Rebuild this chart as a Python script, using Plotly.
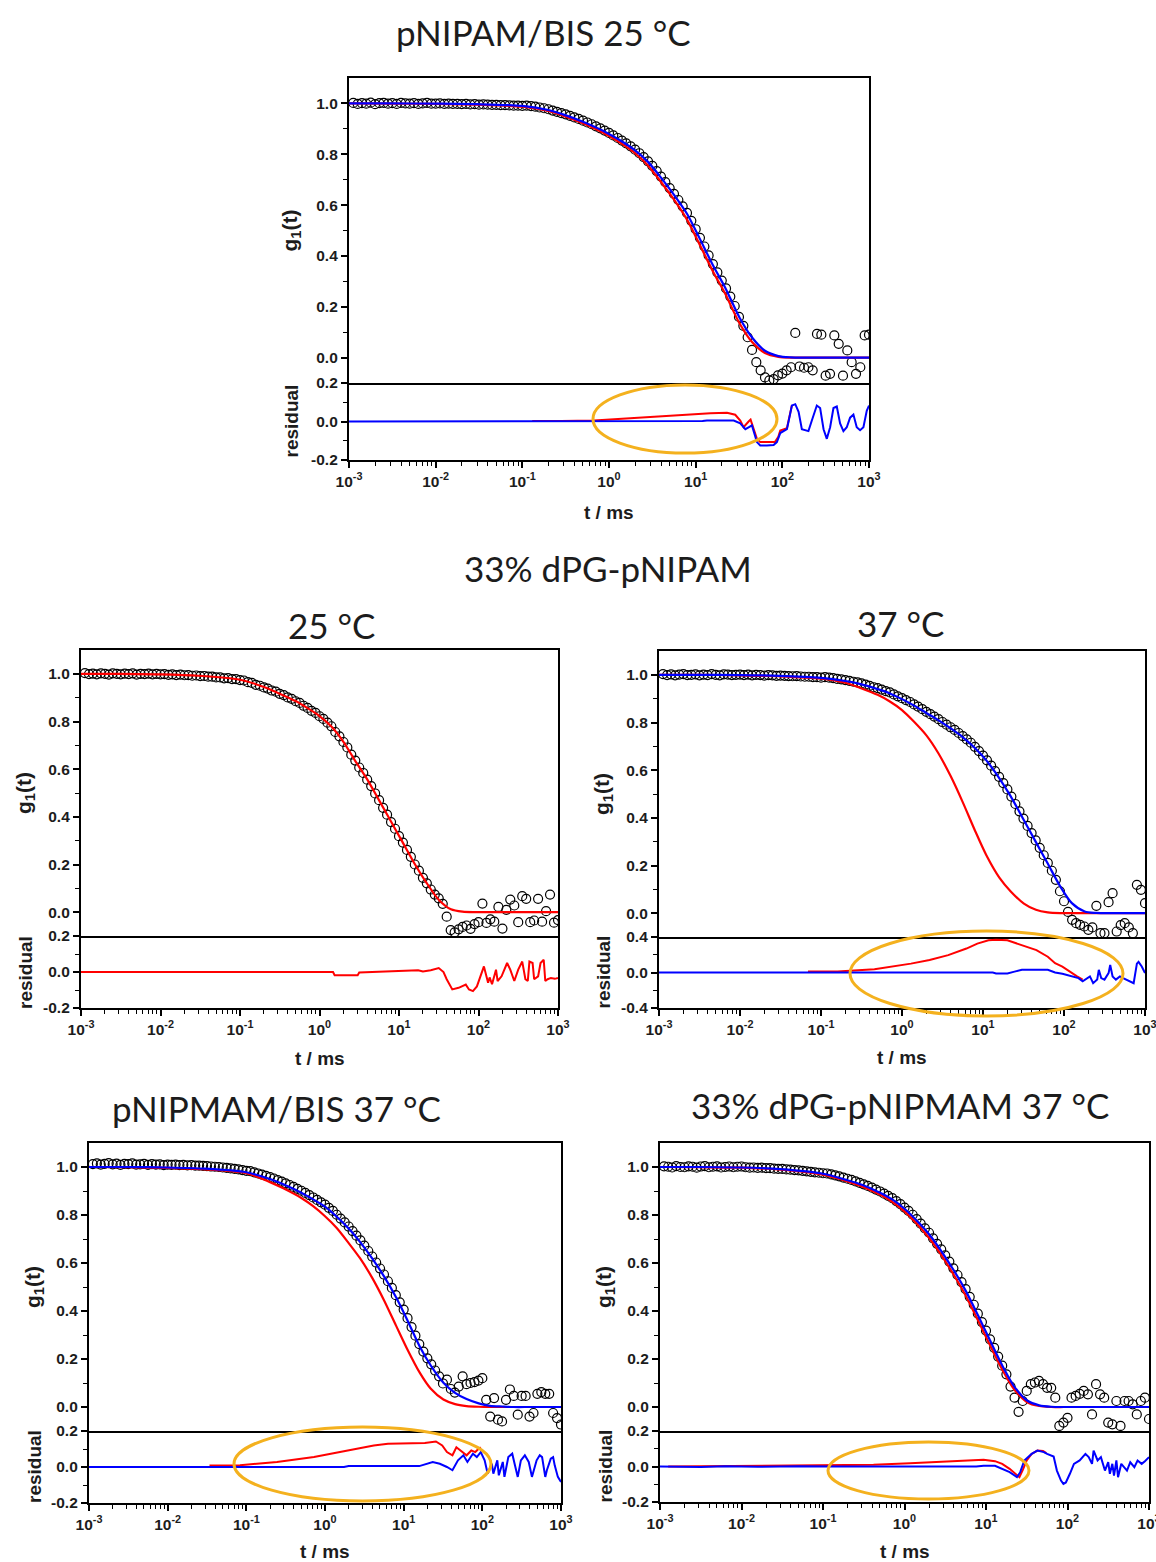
import plotly.graph_objects as go

# ---------------------------------------------------------------- canvas
W, H = 1156, 1562


def fx(px):
    return min(1.0, max(0.0, px / W))


def fy(py):
    return min(1.0, max(0.0, 1 - py / H))


# ---------------------------------------------------------------- data
# correlator lag times (ms) of the measured points
LAG_MS = [
    0.00112, 0.00126, 0.00141, 0.00158, 0.00178, 0.00200, 0.00224, 0.00251, 0.00282, 0.00316,
    0.00355, 0.00398, 0.00447, 0.00501, 0.00562, 0.00631, 0.00708, 0.00794, 0.00891, 0.0100,
    0.0112, 0.0126, 0.0141, 0.0158, 0.0178, 0.0200, 0.0224, 0.0251, 0.0282, 0.0316,
    0.0355, 0.0398, 0.0447, 0.0501, 0.0562, 0.0631, 0.0708, 0.0794, 0.0891, 0.100,
    0.112, 0.126, 0.141, 0.158, 0.178, 0.200, 0.224, 0.251, 0.282, 0.316,
    0.355, 0.398, 0.447, 0.501, 0.562, 0.631, 0.708, 0.794, 0.891, 1.00,
    1.12, 1.26, 1.41, 1.58, 1.78, 2.00, 2.24, 2.51, 2.82, 3.16,
    3.55, 3.98, 4.47, 5.01, 5.62, 6.31, 7.08, 7.94, 8.91, 10.0,
    11.2, 12.6, 14.1, 15.8, 17.8, 20.0, 22.4, 25.1, 28.2, 31.6,
    35.5, 39.8, 44.7, 50.1, 56.2, 63.1, 70.8, 79.4, 89.1, 100,
    112, 126, 141, 158, 178, 200, 224, 251, 282, 316,
    355, 398, 447, 501, 562, 631, 708, 794, 891, 1000,
]

# lag times (ms) at which the fitted curves are tabulated
FIT_MS = [0.001, 0.003, 0.01, 0.03, 0.1, 0.2, 0.3, 0.5, 0.7, 1.0, 1.4, 2.0, 2.8, 4.0,
          5.6, 8.0, 11, 16, 22, 32, 45, 63, 90, 125, 180, 250, 400, 1000]

# --- pNIPAM/BIS 25 °C
A_OBS = [
    1.002, 0.998, 1.001, 0.999, 1.003, 0.997, 1.001, 1.002, 0.999, 1.001,
    0.998, 1.002, 1.000, 0.999, 1.001, 0.998, 1.000, 1.002, 0.999, 0.999,
    1.000, 0.998, 0.999, 0.998, 0.998, 0.997, 0.998, 0.996, 0.997, 0.995,
    0.996, 0.995, 0.994, 0.994, 0.993, 0.993, 0.992, 0.991, 0.991, 0.990,
    0.991, 0.989, 0.987, 0.984, 0.981, 0.977, 0.972, 0.967, 0.962, 0.957,
    0.951, 0.945, 0.939, 0.932, 0.925, 0.918, 0.910, 0.902, 0.893, 0.884,
    0.874, 0.864, 0.854, 0.843, 0.831, 0.818, 0.804, 0.789, 0.772, 0.754,
    0.734, 0.712, 0.690, 0.667, 0.644, 0.620, 0.595, 0.569, 0.538, 0.505,
    0.471, 0.437, 0.402, 0.368, 0.335, 0.303, 0.272, 0.240, 0.203, 0.160,
    0.125, 0.080, 0.030, -0.018, -0.050, -0.078, -0.090, -0.085, -0.070, -0.063,
    -0.050, -0.038, 0.097, -0.035, -0.040, -0.038, -0.050, 0.093, 0.090, -0.071,
    -0.064, 0.087, 0.054, -0.071, 0.028, -0.018, -0.064, -0.038, 0.087, 0.090,
]
A_FIT_RED = [1.000, 0.999, 0.998, 0.995, 0.987, 0.970, 0.951, 0.922, 0.899, 0.872, 0.842, 0.804,
             0.757, 0.690, 0.622, 0.541, 0.448, 0.336, 0.250, 0.135, 0.060, 0.018, 0.003, 0.000,
             0.000, 0.000, 0.000, 0.000]
A_FIT_BLUE = [1.000, 1.000, 0.999, 0.997, 0.990, 0.974, 0.956, 0.928, 0.906, 0.880, 0.851, 0.815,
              0.771, 0.707, 0.641, 0.564, 0.472, 0.360, 0.274, 0.158, 0.078, 0.027, 0.006, 0.001,
              0.000, 0.000, 0.000, 0.000]
A_RES_RED_T = [0.13, 0.28, 0.67, 1.36, 3.9, 7.3, 14.8, 23.0, 28.6, 32.7, 35.7, 40.8, 43.0, 50.9,
               55.6, 70.0, 82.0, 89.9, 94.6, 113, 129]
A_RES_RED = [0.003, 0.002, 0.005, 0.014, 0.026, 0.035, 0.043, 0.045, 0.035, 0.005, -0.030, 0.000,
             0.010, -0.090, -0.107, -0.107, -0.107, -0.080, -0.047, -0.035, 0.085]
A_RES_BLUE_T = [0.001, 10.0, 12.0, 13.5, 27.5, 32.7, 37.4, 40.8, 44.6, 50.9, 55.6, 66.4, 79.3,
                86.5, 94.6, 113, 129, 141, 154, 168, 200, 219, 250, 273, 299, 326, 356, 389, 425,
                464, 507, 554, 605, 661, 722, 789, 862, 942, 1000]
A_RES_BLUE = [0.0, 0.0, 0.003, 0.005, 0.005, -0.010, -0.040, -0.030, -0.020, -0.107, -0.125,
              -0.125, -0.122, -0.107, -0.060, -0.040, 0.083, 0.090, 0.050, -0.040, -0.050, 0.005,
              0.083, 0.070, -0.040, -0.090, -0.030, 0.070, 0.078, -0.010, -0.050, -0.030, 0.020,
              0.036, -0.030, -0.045, -0.030, 0.055, 0.083]

# --- 33% dPG-pNIPAM 25 °C
B_OBS = [
    1.003, 0.999, 1.001, 0.998, 1.002, 1.000, 0.997, 1.002, 1.000, 0.998,
    1.001, 0.999, 1.002, 0.997, 1.000, 0.999, 1.001, 0.998, 1.000, 0.998,
    0.999, 0.996, 0.998, 0.995, 0.997, 0.994, 0.995, 0.992, 0.993, 0.990,
    0.991, 0.988, 0.988, 0.985, 0.985, 0.981, 0.982, 0.978, 0.978, 0.974,
    0.972, 0.965, 0.962, 0.954, 0.950, 0.943, 0.938, 0.930, 0.925, 0.916,
    0.911, 0.901, 0.895, 0.885, 0.878, 0.866, 0.857, 0.845, 0.836, 0.822,
    0.811, 0.795, 0.780, 0.756, 0.738, 0.714, 0.691, 0.661, 0.636, 0.607,
    0.584, 0.556, 0.529, 0.498, 0.470, 0.438, 0.409, 0.378, 0.350, 0.319,
    0.292, 0.261, 0.232, 0.200, 0.174, 0.144, 0.121, 0.095, 0.074, 0.058,
    0.035, -0.019, -0.075, -0.085, -0.072, -0.062, -0.056, -0.070, -0.050, -0.042,
    0.036, -0.045, -0.030, -0.040, 0.022, -0.069, 0.010, 0.053, 0.028, -0.042,
    0.067, 0.056, -0.042, -0.035, 0.056, -0.040, 0.004, 0.074, -0.044, -0.033,
]
B_FIT_RED = [1.000, 1.000, 0.998, 0.992, 0.975, 0.945, 0.920, 0.886, 0.857, 0.823, 0.780, 0.715,
             0.636, 0.556, 0.470, 0.378, 0.296, 0.199, 0.125, 0.050, 0.012, 0.002, 0.000, 0.000,
             0.000, 0.000, 0.000, 0.000]
B_RES_RED_T = [0.001, 1.48, 1.55, 3.02, 3.16, 9.12, 10.0, 17.4, 20.0, 25.1, 31.6, 36.3, 39.8, 46.8,
               56.2, 69.2, 75.9, 85.1, 95.5, 105, 117, 132, 138, 148, 166, 174, 195, 229, 251, 282,
               316, 355, 389, 417, 437, 479, 501, 562, 603, 661, 692, 741, 813, 912, 1000]
B_RES_RED = [0.0, 0.0, -0.018, -0.018, -0.003, 0.003, 0.005, 0.010, 0.003, 0.010, 0.022, 0.000,
             -0.040, -0.097, -0.088, -0.070, -0.097, -0.106, -0.080, -0.024, 0.031, -0.060, -0.030,
             -0.068, 0.013, -0.050, -0.024, 0.050, 0.013, -0.050, 0.013, 0.058, -0.040, -0.050,
             0.058, 0.050, -0.040, -0.024, 0.050, 0.068, -0.050, -0.040, -0.033, -0.038, -0.033]

# --- 33% dPG-pNIPAM 37 °C
C_OBS = [
    1.003, 0.999, 1.002, 0.998, 1.001, 1.003, 0.999, 1.000, 1.002, 0.998,
    1.001, 0.999, 1.003, 1.000, 0.998, 1.002, 1.001, 0.999, 1.000, 1.001,
    0.999, 1.001, 0.998, 1.000, 0.999, 0.997, 0.999, 0.998, 0.996, 0.997,
    0.996, 0.995, 0.994, 0.995, 0.993, 0.992, 0.992, 0.990, 0.990, 0.988,
    0.990, 0.988, 0.986, 0.983, 0.981, 0.978, 0.975, 0.971, 0.968, 0.964,
    0.959, 0.954, 0.948, 0.944, 0.938, 0.932, 0.926, 0.918, 0.910, 0.902,
    0.894, 0.886, 0.876, 0.867, 0.856, 0.845, 0.835, 0.825, 0.814, 0.802,
    0.791, 0.780, 0.769, 0.756, 0.743, 0.729, 0.715, 0.698, 0.680, 0.661,
    0.641, 0.619, 0.596, 0.572, 0.546, 0.519, 0.489, 0.458, 0.427, 0.397,
    0.366, 0.336, 0.305, 0.274, 0.243, 0.211, 0.178, 0.140, 0.092, 0.050,
    0.005, -0.028, -0.042, -0.049, -0.056, -0.070, -0.060, 0.031, -0.084, -0.084,
    0.046, 0.084, -0.077, -0.050, -0.042, -0.060, -0.084, 0.119, 0.098, 0.042,
]
C_FIT_RED = [1.000, 1.000, 0.998, 0.994, 0.984, 0.967, 0.946, 0.916, 0.889, 0.852, 0.804, 0.746,
             0.672, 0.574, 0.467, 0.345, 0.243, 0.148, 0.091, 0.040, 0.014, 0.003, 0.000, 0.000,
             0.000, 0.000, 0.000, 0.000]
C_FIT_BLUE = [1.000, 1.000, 0.999, 0.996, 0.987, 0.974, 0.962, 0.940, 0.923, 0.898, 0.872, 0.840,
              0.810, 0.775, 0.739, 0.692, 0.641, 0.565, 0.490, 0.390, 0.298, 0.208, 0.112, 0.042,
              0.007, 0.001, 0.000, 0.000]
C_RES_RED_T = [0.069, 0.16, 0.457, 0.776, 1.29, 2.19, 3.72, 6.24, 8.51, 11.7, 14.5, 20.0, 30.2,
               45.7, 63.1, 77.6, 95.5, 117, 145, 170]
C_RES_RED = [0.010, 0.011, 0.037, 0.067, 0.100, 0.140, 0.196, 0.270, 0.326, 0.363, 0.370, 0.363,
             0.307, 0.252, 0.178, 0.104, 0.067, 0.011, -0.044, -0.080]
C_RES_BLUE_T = [0.001, 13.2, 14.5, 20.0, 24.5, 30.2, 63.1, 77.6, 95.5, 129, 151, 170, 186, 209,
                229, 257, 269, 288, 316, 355, 372, 398, 437, 490, 537, 661, 724, 794, 832, 912,
                1000]
C_RES_BLUE = [0.0, 0.0, -0.010, -0.010, 0.010, 0.030, 0.030, 0.000, -0.015, -0.044, -0.063,
              -0.100, -0.074, -0.044, -0.120, -0.080, 0.030, -0.063, -0.080, -0.007, 0.085,
              -0.044, -0.080, -0.044, -0.063, -0.100, -0.120, 0.100, 0.120, 0.067, -0.007]

# --- pNIPMAM/BIS 37 °C
D_OBS = [
    1.012, 1.015, 1.010, 1.013, 1.016, 1.011, 1.014, 1.009, 1.013, 1.012,
    1.015, 1.010, 1.011, 1.013, 1.009, 1.012, 1.010, 1.011, 1.008, 1.010,
    1.009, 1.010, 1.008, 1.009, 1.007, 1.008, 1.006, 1.006, 1.005, 1.004,
    1.002, 1.001, 1.000, 0.998, 0.996, 0.994, 0.992, 0.990, 0.987, 0.984,
    0.983, 0.978, 0.973, 0.968, 0.963, 0.958, 0.952, 0.945, 0.939, 0.932,
    0.925, 0.917, 0.909, 0.901, 0.892, 0.883, 0.873, 0.863, 0.853, 0.843,
    0.830, 0.817, 0.801, 0.785, 0.769, 0.752, 0.733, 0.714, 0.694, 0.672,
    0.650, 0.627, 0.602, 0.577, 0.552, 0.524, 0.496, 0.466, 0.436, 0.406,
    0.370, 0.333, 0.297, 0.262, 0.231, 0.203, 0.178, 0.152, 0.128, 0.098,
    0.114, 0.075, 0.060, 0.085, 0.128, 0.095, 0.100, 0.104, 0.110, 0.120,
    0.030, -0.040, 0.037, -0.053, -0.060, 0.030, 0.073, 0.046, -0.032, 0.046,
    0.046, -0.040, -0.025, 0.055, 0.062, 0.055, 0.055, -0.025, -0.046, -0.073,
]
D_FIT_RED = [1.000, 0.999, 0.996, 0.990, 0.974, 0.937, 0.910, 0.871, 0.838, 0.795, 0.747, 0.683,
             0.619, 0.537, 0.446, 0.339, 0.244, 0.143, 0.077, 0.031, 0.012, 0.004, 0.001, 0.000,
             0.000, 0.000, 0.000, 0.000]
D_FIT_BLUE = [1.000, 1.000, 0.998, 0.993, 0.978, 0.950, 0.927, 0.893, 0.866, 0.835, 0.794, 0.744,
              0.687, 0.618, 0.545, 0.457, 0.366, 0.252, 0.174, 0.101, 0.059, 0.033, 0.015, 0.005,
              0.002, 0.000, 0.000, 0.000]
D_RES_RED_T = [0.034, 0.0832, 0.245, 0.724, 1.55, 2.95, 4.17, 6.31, 11.0, 18.6, 25.7, 30.9, 35.5,
               41.7, 46.8, 55.0, 63.1, 72.4, 81.3, 89.1, 95.5]
D_RES_RED = [0.009, 0.010, 0.028, 0.055, 0.083, 0.107, 0.120, 0.129, 0.133, 0.133, 0.142, 0.120,
             0.083, 0.065, 0.110, 0.083, 0.065, 0.092, 0.083, 0.100, 0.110]
D_RES_BLUE_T = [0.001, 1.74, 2.0, 15.8, 23.4, 28.8, 35.5, 41.7, 49.0, 57.5, 64.6, 75.9, 85.1,
                95.5, 107, 117, 132, 138, 155, 162, 182, 191, 214, 240, 263, 282, 309, 347, 389,
                427, 490, 537, 575, 631, 661, 741, 794, 832, 912, 1000]
D_RES_BLUE = [0.0, 0.0, 0.005, 0.005, 0.028, 0.018, 0.000, -0.018, 0.037, 0.065, 0.028, 0.074,
              0.055, 0.083, 0.037, -0.037, 0.018, -0.037, 0.037, -0.046, 0.028, -0.055, 0.055,
              0.074, 0.000, -0.055, 0.037, 0.065, 0.028, -0.055, 0.037, 0.065, 0.055, -0.055,
              -0.018, 0.046, 0.055, 0.009, -0.055, -0.083]

# --- 33% dPG-pNIPMAM 37 °C
E_OBS = [
    1.003, 1.001, 0.998, 1.004, 1.000, 0.999, 1.003, 1.001, 0.997, 1.002,
    1.004, 0.999, 1.001, 1.003, 0.998, 1.000, 1.002, 0.999, 1.001, 1.002,
    0.999, 0.997, 0.998, 0.996, 0.997, 0.995, 0.995, 0.993, 0.992, 0.992,
    0.990, 0.989, 0.987, 0.986, 0.984, 0.982, 0.980, 0.978, 0.976, 0.974,
    0.973, 0.969, 0.965, 0.961, 0.956, 0.951, 0.946, 0.940, 0.934, 0.928,
    0.921, 0.914, 0.906, 0.898, 0.889, 0.880, 0.870, 0.858, 0.845, 0.831,
    0.817, 0.801, 0.783, 0.764, 0.744, 0.726, 0.703, 0.680, 0.657, 0.632,
    0.606, 0.578, 0.550, 0.520, 0.491, 0.459, 0.426, 0.389, 0.354, 0.318,
    0.282, 0.246, 0.210, 0.172, 0.136, 0.085, 0.039, -0.020, 0.025, 0.067,
    0.095, 0.102, 0.109, 0.095, 0.080, 0.080, 0.039, -0.079, -0.065, -0.045,
    0.039, 0.046, 0.055, 0.067, 0.053, -0.031, 0.095, 0.053, 0.039, -0.065,
    -0.072, 0.025, -0.079, 0.025, 0.025, 0.011, -0.031, 0.025, 0.039, -0.050,
]
E_FIT_RED = [1.000, 0.999, 0.997, 0.989, 0.968, 0.940, 0.919, 0.885, 0.856, 0.815, 0.766, 0.705,
             0.636, 0.552, 0.466, 0.360, 0.263, 0.153, 0.075, 0.020, 0.004, 0.000, 0.000, 0.000,
             0.000, 0.000, 0.000, 0.000]
E_FIT_BLUE = [1.000, 1.000, 0.998, 0.991, 0.972, 0.945, 0.926, 0.893, 0.866, 0.826, 0.778, 0.720,
              0.652, 0.571, 0.486, 0.381, 0.283, 0.170, 0.087, 0.027, 0.007, 0.001, 0.000, 0.000,
              0.000, 0.000, 0.000, 0.000]
E_RES_RED_T = [0.00126, 0.12, 0.417, 1.17, 3.31, 5.62, 9.33, 12.9, 15.8, 19.5, 22.9, 25.7, 28.2,
               31.6, 36.3, 42.7, 50.1, 55.0]
E_RES_RED = [0.0, 0.005, 0.010, 0.019, 0.030, 0.034, 0.038, 0.030, 0.015, -0.013, -0.041, -0.060,
             -0.020, 0.034, 0.071, 0.090, 0.087, 0.075]
E_RES_BLUE_T = [0.001, 0.00316, 0.00631, 0.0158, 0.0501, 0.158, 7.59, 9.33, 12.9, 15.8, 19.5,
                24.0, 26.3, 29.5, 36.3, 42.7, 51.3, 56.2, 61.7, 67.6, 74.1, 83.2, 89.1, 95.5,
                107, 120, 141, 166, 182, 200, 209, 234, 257, 288, 316, 331, 355, 372, 398, 417,
                457, 537, 589, 661, 724, 813, 891, 1000]
E_RES_BLUE = [0.0, -0.003, 0.002, -0.002, 0.002, 0.0, 0.0, 0.004, 0.004, -0.013, -0.032, -0.060,
              -0.032, 0.034, 0.071, 0.090, 0.081, 0.071, 0.062, 0.056, -0.023, -0.079, -0.098,
              -0.090, -0.041, 0.015, 0.034, 0.071, 0.053, 0.015, 0.090, 0.034, 0.053, -0.023,
              0.024, -0.041, 0.015, -0.051, 0.034, -0.060, 0.015, -0.023, 0.024, -0.004, 0.034,
              0.015, 0.030, 0.053]

# axis tick labels
DECADES = [0.001, 0.01, 0.1, 1, 10, 100, 1000]
DECADE_LABELS = ["10<sup>-3</sup>", "10<sup>-2</sup>", "10<sup>-1</sup>", "10<sup>0</sup>",
                 "10<sup>1</sup>", "10<sup>2</sup>", "10<sup>3</sup>"]
G1_TICKS = [0.0, 0.2, 0.4, 0.6, 0.8, 1.0]
G1_LABELS = ["0.0", "0.2", "0.4", "0.6", "0.8", "1.0"]

# ---------------------------------------------------------------- style
RED, BLUE, ORANGE = "#ff0000", "#0000ff", "#f4b11e"
INK = "#1c1c1c"
SANS = "Liberation Sans, Arial, sans-serif"
TICK_FONT = dict(family=SANS, size=15.5, color=INK, weight="bold")
LABEL_FONT = dict(family=SANS, size=19, color=INK, weight="bold")
TITLE_FONT = dict(family="Lato, Open Sans, sans-serif", size=35, color=INK)

MINOR_X = [m * d for d in DECADES[:-1] for m in range(2, 10)]

# panel boxes in pixels: left, right, top, split (main/residual), bottom
PANELS = [
    dict(box=(349, 869, 78, 383, 460), obs=A_OBS,
         fits=[(A_FIT_RED, RED), (A_FIT_BLUE, BLUE)],
         res=[(A_RES_RED_T, A_RES_RED, RED), (A_RES_BLUE_T, A_RES_BLUE, BLUE)],
         lim=0.2, ylab_x=291, xlab_y=512,
         ellipse=(593, 777, 385, 453)),
    dict(box=(81, 558, 650, 936, 1008), obs=B_OBS,
         fits=[(B_FIT_RED, RED)],
         res=[(B_RES_RED_T, B_RES_RED, RED)],
         lim=0.2, ylab_x=25, xlab_y=1058, ellipse=None),
    dict(box=(659, 1145, 651, 937, 1008), obs=C_OBS,
         fits=[(C_FIT_RED, RED), (C_FIT_BLUE, BLUE)],
         res=[(C_RES_RED_T, C_RES_RED, RED), (C_RES_BLUE_T, C_RES_BLUE, BLUE)],
         lim=0.4, ylab_x=603, xlab_y=1057,
         ellipse=(850, 1123, 931, 1016)),
    dict(box=(89, 561, 1143, 1431, 1503), obs=D_OBS,
         fits=[(D_FIT_RED, RED), (D_FIT_BLUE, BLUE)],
         res=[(D_RES_RED_T, D_RES_RED, RED), (D_RES_BLUE_T, D_RES_BLUE, BLUE)],
         lim=0.2, ylab_x=34, xlab_y=1551,
         ellipse=(234, 491, 1427, 1501)),
    dict(box=(660, 1149, 1143, 1431, 1502), obs=E_OBS,
         fits=[(E_FIT_RED, RED), (E_FIT_BLUE, BLUE)],
         res=[(E_RES_RED_T, E_RES_RED, RED), (E_RES_BLUE_T, E_RES_BLUE, BLUE)],
         lim=0.2, ylab_x=605, xlab_y=1551,
         ellipse=(828, 1029, 1442, 1499)),
]

TITLES = [
    ("pNIPAM/BIS 25 °C", 543, 32),
    ("33% dPG-pNIPAM", 608, 568),
    ("25 °C", 331, 625),
    ("37 °C", 900, 623),
    ("pNIPMAM/BIS 37 °C", 276, 1108),
    ("33% dPG-pNIPMAM 37 °C", 900, 1105),
]

fig = go.Figure()
layout = {}
annotations = []
shapes = []

LINE = dict(showline=True, linecolor="black", linewidth=2.2, showgrid=False, zeroline=False,
            automargin=False)
TICK = dict(ticks="outside", ticklen=6, tickwidth=1.6, tickcolor="black", tickfont=TICK_FONT,
            ticklabeloverflow="allow")
MINOR_STYLE = dict(ticks="outside", ticklen=3.5, tickwidth=1.4, tickcolor="black")

for k, p in enumerate(PANELS):
    nm, nr = 2 * k + 1, 2 * k + 2
    xm = "x" if nm == 1 else f"x{nm}"
    ym = "y" if nm == 1 else f"y{nm}"
    xr, yr = f"x{nr}", f"y{nr}"
    l, r, t, s, b = p["box"]

    # measured correlation function
    fig.add_trace(go.Scatter(
        x=LAG_MS, y=p["obs"], mode="markers", xaxis=xm, yaxis=ym,
        marker=dict(symbol="circle-open", size=9, color="black", line=dict(width=1.2)),
        showlegend=False, hoverinfo="skip"))
    # fitted curves
    for vals, col in p["fits"]:
        fig.add_trace(go.Scatter(
            x=FIT_MS, y=vals, mode="lines", xaxis=xm, yaxis=ym,
            line=dict(color=col, width=2.2, shape="spline", smoothing=0.8),
            showlegend=False, hoverinfo="skip"))
    # residuals
    for tt, rr, col in p["res"]:
        fig.add_trace(go.Scatter(
            x=tt, y=rr, mode="lines", xaxis=xr, yaxis=yr,
            line=dict(color=col, width=2),
            showlegend=False, hoverinfo="skip"))

    dom_x = [fx(l), fx(r)]
    lim = p["lim"]

    # main panel: frame on all four sides, no x labels
    layout["xaxis" if nm == 1 else f"xaxis{nm}"] = dict(
        domain=dom_x, anchor=ym, type="log", range=[-3, 3],
        showticklabels=False, ticks="", mirror=True, **LINE)
    layout["yaxis" if nm == 1 else f"yaxis{nm}"] = dict(
        domain=[fy(s), fy(t)], anchor=xm, range=[-0.1, 1.1],
        tickmode="array", tickvals=G1_TICKS, ticktext=G1_LABELS,
        minor=dict(tickmode="array", tickvals=[0.1, 0.3, 0.5, 0.7, 0.9], **MINOR_STYLE),
        mirror=True, **TICK, **LINE)
    # residual panel: its top edge is the main panel's bottom line
    layout[f"xaxis{nr}"] = dict(
        domain=dom_x, anchor=yr, type="log", range=[-3, 3],
        tickmode="array", tickvals=DECADES, ticktext=DECADE_LABELS,
        minor=dict(tickmode="array", tickvals=MINOR_X, **MINOR_STYLE),
        mirror=False, **TICK, **LINE)
    layout[f"yaxis{nr}"] = dict(
        domain=[fy(b), fy(s)], anchor=xr, range=[-lim, lim],
        tickmode="array", tickvals=[-lim, 0, lim],
        ticktext=[f"-{lim:.1f}", "0.0", f"{lim:.1f}"],
        minor=dict(tickmode="array", tickvals=[-lim / 2, lim / 2], **MINOR_STYLE),
        mirror=True, **TICK, **LINE)

    # axis titles
    annotations.append(dict(text="g<sub>1</sub>(t)", x=fx(p["ylab_x"]), y=fy((t + s) / 2),
                            xref="paper", yref="paper", showarrow=False, textangle=-90,
                            xanchor="center", yanchor="middle", font=dict(LABEL_FONT, size=21)))
    annotations.append(dict(text="residual", x=fx(p["ylab_x"]), y=fy((s + b) / 2),
                            xref="paper", yref="paper", showarrow=False, textangle=-90,
                            xanchor="center", yanchor="middle", font=LABEL_FONT))
    annotations.append(dict(text="t / ms", x=fx((l + r) / 2), y=fy(p["xlab_y"]),
                            xref="paper", yref="paper", showarrow=False,
                            xanchor="center", yanchor="middle", font=LABEL_FONT))

    # highlight ring around the region where the two fits differ
    if p["ellipse"]:
        x0, x1, y0, y1 = p["ellipse"]
        shapes.append(dict(type="circle", xref="paper", yref="paper",
                           x0=fx(x0), x1=fx(x1), y0=fy(y1), y1=fy(y0),
                           line=dict(color=ORANGE, width=3), layer="above"))

for text, cx, cy in TITLES:
    annotations.append(dict(text=text, x=fx(cx), y=fy(cy), xref="paper", yref="paper",
                            showarrow=False, xanchor="center", yanchor="middle",
                            font=TITLE_FONT))

fig.update_layout(
    width=W, height=H, autosize=False,
    margin=dict(l=0, r=0, t=0, b=0, pad=0, autoexpand=False),
    paper_bgcolor="white", plot_bgcolor="white",
    showlegend=False, hovermode=False,
    annotations=annotations, shapes=shapes,
    **layout,
)

fig.write_html("out.html")
